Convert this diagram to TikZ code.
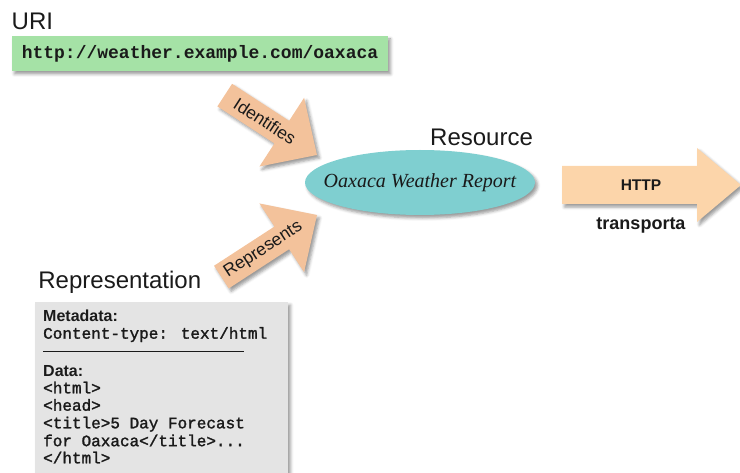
\documentclass[tikz,border=0pt]{standalone}
\usepackage{fontspec}
\setmainfont{Liberation Sans}
\newfontfamily\monofont{Liberation Mono}
\newfontfamily\codefont[FakeBold=1.6]{Liberation Mono}
\newfontfamily\seriffont{Liberation Serif}
\usetikzlibrary{shapes.geometric,shadows.blur}

\definecolor{urlgreen}{HTML}{A5E2A6}
\definecolor{arroworange}{HTML}{F3C29B}
\definecolor{httporange}{HTML}{FCD5AA}
\definecolor{resteal}{HTML}{7FCFD0}
\definecolor{docgray}{HTML}{E4E4E4}
\definecolor{inkblack}{HTML}{1A1A1A}

\tikzset{
  softshadow/.style={blur shadow={shadow xshift=2.5pt, shadow yshift=-3pt,
      shadow blur radius=3pt, shadow opacity=40}},
  heading/.style={font=\fontsize{24}{28}\selectfont, inner sep=0pt,
      text=inkblack, anchor=base west},
  urlbox/.style={fill=urlgreen, softshadow, minimum width=376pt,
      minimum height=35pt, inner sep=0pt,
      font=\monofont\bfseries\fontsize{18}{20}\selectfont, text=inkblack},
  resource/.style={ellipse, fill=resteal, softshadow, minimum width=230pt,
      minimum height=65pt, inner sep=0pt},
  reslabel/.style={font=\seriffont\itshape\fontsize{20}{22}\selectfont,
      inner sep=0pt, text=inkblack},
  blockarrow/.style={fill=arroworange, softshadow},
  arrowlabel/.style={font=\fontsize{17.5}{19}\selectfont, inner sep=0pt,
      text=inkblack},
  docbox/.style={fill=docgray, softshadow},
  doclabel/.style={font=\bfseries\fontsize{16}{18}\selectfont, inner sep=0pt,
      anchor=base west, text=inkblack},
  doccode/.style={font=\codefont\fontsize{16}{18}\selectfont, inner sep=0pt,
      anchor=base west, text=inkblack},
  httplabel/.style={font=\bfseries\fontsize{15.5}{18}\selectfont,
      inner sep=0pt, text=inkblack},
}

\begin{document}
\begin{tikzpicture}[x=1pt, y=1pt]
  \useasboundingbox (0,0) rectangle (740,-473);
  \clip (0,0) rectangle (740,-473);

  % URI and its address
  \node[heading] (uri) at (11.5,-29.3) {URI};
  \node[urlbox] (url) at (200,-53.5) {http://weather.example.com/oaxaca};

  % the resource
  \node[heading] (restitle) at (430,-146) {Resource};
  \node[resource] (res) at (420,-182.5) {};
  \node[reslabel] (resname) at (res.center) {Oaxaca Weather Report};

  % "Identifies" block arrow, pointing down-right at the resource
  \begin{scope}[shift={(317,-155)}, rotate=-33]
    \path[blockarrow] (-110,13.5) -- (-42,13.5) -- (-42,41) -- (0,0)
      -- (-42,-41) -- (-42,-13.5) -- (-110,-13.5) -- cycle;
    \node[arrowlabel, transform shape] (identifies) at (-62,0) {Identifies};
  \end{scope}

  % "Represents" block arrow, pointing up-right at the resource
  \begin{scope}[shift={(317,-215)}, rotate=33]
    \path[blockarrow] (-114,13.5) -- (-42,13.5) -- (-42,41) -- (0,0)
      -- (-42,-41) -- (-42,-13.5) -- (-114,-13.5) -- cycle;
    \node[arrowlabel, transform shape] (represents) at (-64,0) {Represents};
  \end{scope}

  % HTTP transport arrow
  \path[fill=httporange, softshadow] (562,-166) -- (697,-166) -- (697,-148)
    -- (741,-185) -- (697,-222) -- (697,-204) -- (562,-204) -- cycle;
  \node[httplabel] (http) at (641,-185) {HTTP};
  \node[httplabel, font=\bfseries\fontsize{18}{20}\selectfont, anchor=base]
    (transporta) at (641,-229.5) {transporta};

  % the representation document
  \node[heading] (reptitle) at (38.2,-288.3) {Representation};
  \path[docbox] (35,-302) rectangle (288,-490);
  \node[doclabel] (meta) at (43,-321.7) {Metadata:};
  \node[doccode] (ctype) at (43,-338.7) {Content-type: text/html};
  \draw[line width=0.9pt, inkblack] (43,-351) -- (244,-351);
  \node[doclabel] (data) at (43,-376.7) {Data:};
  \node[doccode] (l1) at (43,-393.3) {<html>};
  \node[doccode] (l2) at (43,-410.7) {<head>};
  \node[doccode] (l3) at (43,-428.3) {<title>5 Day Forecast};
  \node[doccode] (l4) at (43,-446.2) {for Oaxaca</title>...};
  \node[doccode] (l5) at (43,-463.3) {</html>};
\end{tikzpicture}
\end{document}
